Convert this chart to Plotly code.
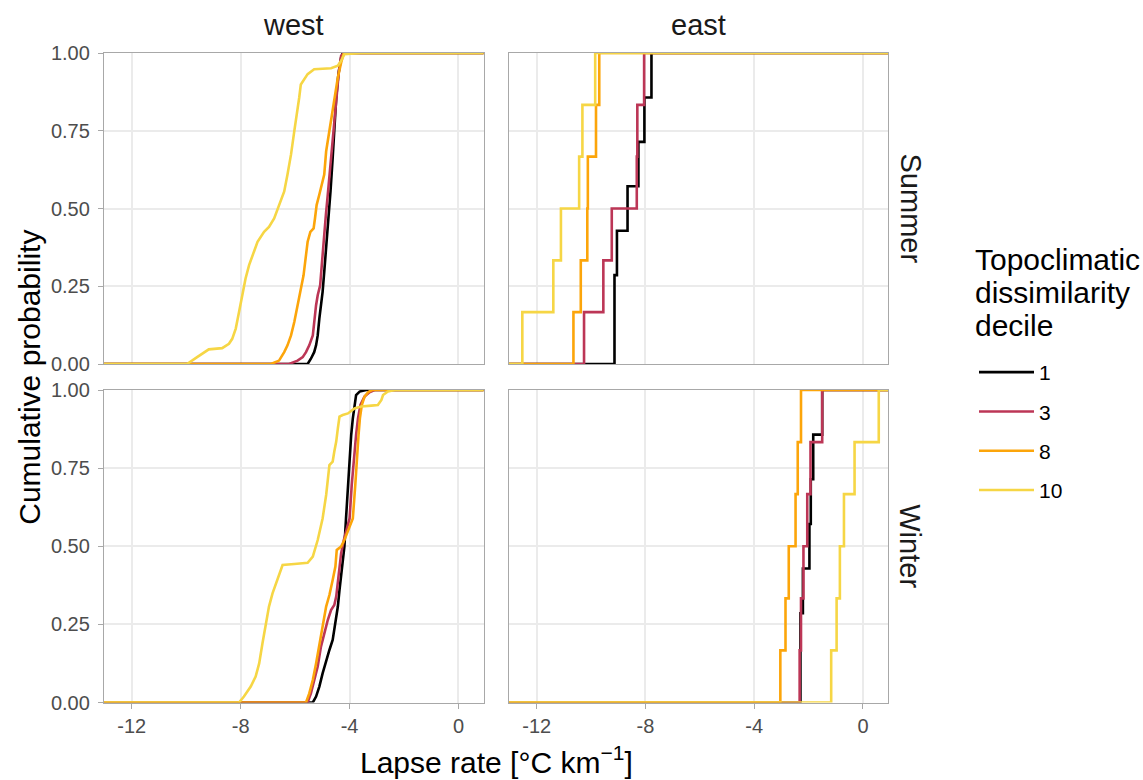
import plotly.graph_objects as go

# ---------------- data ----------------
deciles = ["1", "3", "8", "10"]
colors = ["#000000", "#BC3656", "#FCA50A", "#F6D645"]
x_tick_vals = [-12, -8, -4, 0]
x_tick_text = ["-12", "-8", "-4", "0"]
y_tick_vals = [0, 0.25, 0.5, 0.75, 1.0]
y_tick_text = ["0.00", "0.25", "0.50", "0.75", "1.00"]
regions = ["west", "east"]
seasons = ["Summer", "Winter"]
legend_title_lines = ["Topoclimatic", "dissimilarity", "decile"]

# West / Summer : cumulative curves (lapse rate, cumulative probability)
ws1_x = [-5.54, -5.42, -5.30, -5.23, -5.17, -5.11, -5.05, -4.99, -4.93, -4.86, -4.80, -4.74, -4.70, -4.62, -4.56, -4.49, -4.41, -4.31, -4.25]
ws1_p = [0.0, 0.017, 0.038, 0.060, 0.092, 0.146, 0.189, 0.232, 0.296, 0.372, 0.447, 0.511, 0.555, 0.663, 0.770, 0.856, 0.932, 0.985, 1.0]
ws3_x = [-6.22, -5.91, -5.72, -5.60, -5.48, -5.35, -5.30, -5.23, -5.17, -5.08, -5.02, -4.95, -4.87, -4.80, -4.68, -4.58, -4.49, -4.39, -4.31, -4.21]
ws3_p = [0.0, 0.011, 0.022, 0.038, 0.060, 0.092, 0.135, 0.189, 0.221, 0.253, 0.318, 0.404, 0.479, 0.545, 0.663, 0.781, 0.867, 0.943, 0.991, 1.0]
ws8_x = [-6.89, -6.59, -6.40, -6.28, -6.15, -6.03, -5.91, -5.79, -5.69, -5.60, -5.54, -5.44, -5.32, -5.27, -5.21, -5.11, -4.93, -4.86, -4.74, -4.62, -4.53, -4.43, -4.31, -4.21]
ws8_p = [0.0, 0.011, 0.038, 0.060, 0.092, 0.135, 0.189, 0.243, 0.285, 0.350, 0.393, 0.425, 0.436, 0.468, 0.511, 0.545, 0.609, 0.684, 0.749, 0.824, 0.878, 0.921, 0.969, 1.0]
ws10_x = [-9.97, -9.60, -9.35, -9.17, -8.68, -8.43, -8.31, -8.18, -8.06, -7.94, -7.82, -7.69, -7.57, -7.38, -7.14, -6.96, -6.77, -6.59,
          -6.40, -6.28, -6.15, -6.03, -5.93, -5.85, -5.79, -5.66, -5.54, -5.30, -4.68, -4.43, -4.31, -4.19, -3.60]
ws10_p = [0.0, 0.022, 0.038, 0.047, 0.051, 0.065, 0.081, 0.114, 0.167, 0.221, 0.275, 0.318, 0.350, 0.393, 0.425, 0.441, 0.468, 0.511,
          0.555, 0.609, 0.674, 0.749, 0.803, 0.856, 0.899, 0.915, 0.932, 0.948, 0.951, 0.959, 0.975, 0.996, 1.0]

# West / Winter
ww1_x = [-5.35, -5.23, -5.11, -4.99, -4.86, -4.74, -4.62, -4.56, -4.49, -4.43, -4.37, -4.31, -4.25, -4.19, -4.13, -4.06, -4.00, -3.94, -3.88, -3.82, -3.76, -3.63, -3.39]
ww1_p = [0.0, 0.019, 0.051, 0.093, 0.136, 0.168, 0.200, 0.232, 0.264, 0.307, 0.360, 0.413, 0.456, 0.499, 0.589, 0.696, 0.803, 0.856, 0.909, 0.952, 0.984, 0.995, 1.0]
ww3_x = [-5.54, -5.42, -5.30, -5.17, -5.05, -4.93, -4.80, -4.68, -4.56, -4.49, -4.43, -4.37, -4.31, -4.21, -4.00, -3.92, -3.82, -3.76, -3.69, -3.60, -3.45, -3.27, -3.08]
ww3_p = [0.0, 0.029, 0.072, 0.115, 0.179, 0.221, 0.264, 0.296, 0.312, 0.339, 0.381, 0.435, 0.477, 0.520, 0.589, 0.696, 0.803, 0.856, 0.909, 0.952, 0.979, 0.993, 1.0]
ww8_x = [-5.60, -5.48, -5.35, -5.23, -5.11, -4.99, -4.86, -4.74, -4.62, -4.52, -4.47, -4.31, -4.19, -3.88, -3.79, -3.72, -3.67, -3.62, -3.55, -3.45, -3.32, -3.18]
ww8_p = [0.0, 0.029, 0.072, 0.125, 0.179, 0.243, 0.307, 0.344, 0.392, 0.435, 0.488, 0.499, 0.520, 0.589, 0.696, 0.803, 0.856, 0.909, 0.952, 0.979, 0.993, 1.0]
ww10_x = [-8.06, -7.88, -7.63, -7.45, -7.32, -7.20, -7.08, -6.96, -6.83, -6.65, -6.46, -6.03, -5.54, -5.35, -5.17, -4.99, -4.86, -4.74,
          -4.62, -4.56, -4.49, -4.43, -4.37, -4.25, -4.06, -3.82, -3.57, -3.20, -2.96, -2.83, -2.77, -2.59, -2.34]
ww10_p = [0.0, 0.019, 0.051, 0.083, 0.125, 0.189, 0.253, 0.307, 0.349, 0.392, 0.440, 0.443, 0.447, 0.467, 0.520, 0.589, 0.664, 0.760,
          0.771, 0.803, 0.835, 0.877, 0.915, 0.920, 0.925, 0.941, 0.947, 0.950, 0.952, 0.968, 0.984, 0.995, 1.0]

# East : individual lapse-rate values (step ECDF)
es1 = [-9.14, -9.14, -9.05, -8.66, -8.26, -8.04, -7.78]
es3 = [-10.26, -9.55, -9.24, -8.32, -8.30, -8.05]
es8 = [-10.65, -10.38, -10.14, -10.12, -9.82, -9.70]
es10 = [-12.53, -11.39, -11.11, -10.44, -10.32, -9.85]
ew1 = [-2.30, -2.30, -2.21, -1.97, -1.92, -1.83, -1.50]
ew3 = [-2.33, -2.28, -2.19, -2.05, -1.93, -1.50]
ew8 = [-3.04, -2.85, -2.73, -2.48, -2.40, -2.28]
ew10 = [-1.17, -0.97, -0.85, -0.70, -0.31, 0.58]

X_RANGE = [-13.02, 0.92]
FAR = 50.0

# ---------------- figure ----------------
W, H = 1143, 780
FONT = "Liberation Sans, Arial, Helvetica, sans-serif"


def px_x(v):
    return v / W


def px_y(v):
    return 1 - v / H


col_dom = [[px_x(104), px_x(483.5)], [px_x(509), px_x(888)]]
row_dom = [[px_y(364), px_y(53)], [px_y(702.5), px_y(390)]]

panels = {
    ("west", "Summer"): ("x", "y"),
    ("east", "Summer"): ("x2", "y2"),
    ("west", "Winter"): ("x3", "y3"),
    ("east", "Winter"): ("x4", "y4"),
}

west_curves = {
    "Summer": [(ws1_x, ws1_p), (ws3_x, ws3_p), (ws8_x, ws8_p), (ws10_x, ws10_p)],
    "Winter": [(ww1_x, ww1_p), (ww3_x, ww3_p), (ww8_x, ww8_p), (ww10_x, ww10_p)],
}
east_values = {
    "Summer": [es1, es3, es8, es10],
    "Winter": [ew1, ew3, ew8, ew10],
}

fig = go.Figure()
for season in seasons:
    for region in regions:
        xa, ya = panels[(region, season)]
        for i, dec in enumerate(deciles):
            if region == "west":
                cx, cp = west_curves[season][i]
                xs = [-FAR] + list(cx) + [FAR]
                ys = [0.0] + list(cp) + [1.0]
                shape = "linear"
            else:
                vals = sorted(east_values[season][i])
                n = len(vals)
                xs = [-FAR] + vals + [FAR]
                ys = [0.0] + [(k + 1) / n for k in range(n)] + [1.0]
                shape = "hv"
            fig.add_trace(go.Scatter(
                x=xs, y=ys, mode="lines",
                line=dict(color=colors[i], width=2.6, shape=shape),
                name=dec, legendgroup=dec,
                showlegend=(region == "west" and season == "Summer"),
                xaxis=xa, yaxis=ya, hoverinfo="skip",
            ))

axis_common = dict(
    showgrid=True, gridcolor="#EBEBEB", gridwidth=2,
    zeroline=False, showline=True, linecolor="#A8A8A8", linewidth=1.3,
    mirror=True, ticklen=5, tickwidth=1.2, tickcolor="#A8A8A8",
    automargin=False,
    tickfont=dict(family=FONT, size=20, color="#4D4D4D"),
)

layout_axes = {}
for (region, season), (xa, ya) in panels.items():
    ci = 0 if region == "west" else 1
    ri = 0 if season == "Summer" else 1
    xkey = "xaxis" + xa[1:]
    ykey = "yaxis" + ya[1:]
    layout_axes[xkey] = dict(
        axis_common, domain=col_dom[ci], anchor=ya, range=X_RANGE,
        tickvals=x_tick_vals, ticktext=x_tick_text,
        showticklabels=(ri == 1), ticks=("outside" if ri == 1 else ""),
    )
    layout_axes[ykey] = dict(
        axis_common, domain=row_dom[ri], anchor=xa, range=[0, 1],
        tickvals=y_tick_vals, ticktext=y_tick_text,
        showticklabels=(ci == 0), ticks=("outside" if ci == 0 else ""),
        ticklabelstandoff=4,
    )

title_font = dict(family=FONT, size=30, color="#000000")
strip_font = dict(family=FONT, size=29, color="#1A1A1A")

annotations = []
for ci, region in enumerate(regions):
    annotations.append(dict(
        text=region, xref="paper", yref="paper",
        x=(col_dom[ci][0] + col_dom[ci][1]) / 2, y=px_y(25),
        showarrow=False, font=strip_font, xanchor="center", yanchor="middle",
    ))
for ri, season in enumerate(seasons):
    annotations.append(dict(
        text=season, xref="paper", yref="paper",
        x=px_x(910), y=(row_dom[ri][0] + row_dom[ri][1]) / 2,
        showarrow=False, font=strip_font, textangle=90,
        xanchor="center", yanchor="middle",
    ))
annotations.append(dict(
    text="Lapse rate [°C km<sup>−1</sup>]", xref="paper", yref="paper",
    x=(col_dom[0][0] + col_dom[1][1]) / 2, y=px_y(760),
    showarrow=False, font=title_font, xanchor="center", yanchor="middle",
))
annotations.append(dict(
    text="Cumulative probability", xref="paper", yref="paper",
    x=px_x(30), y=(row_dom[0][1] + row_dom[1][0]) / 2,
    showarrow=False, font=title_font, textangle=-90,
    xanchor="center", yanchor="middle",
))
# legend title (three lines with ggplot-like tight line spacing)
for k, line in enumerate(legend_title_lines):
    annotations.append(dict(
        text=line, xref="paper", yref="paper",
        x=px_x(973), y=px_y(260 + 32.5 * k),
        showarrow=False, font=title_font, xanchor="left", yanchor="middle",
    ))

fig.update_layout(
    width=W, height=H,
    margin=dict(l=0, r=0, t=0, b=0, autoexpand=False),
    paper_bgcolor="white", plot_bgcolor="white",
    font=dict(family=FONT),
    annotations=annotations,
    legend=dict(
        x=px_x(974), xanchor="left", y=px_y(352), yanchor="top",
        font=dict(family=FONT, size=21, color="#000000"),
        tracegroupgap=9, itemwidth=55, bgcolor="rgba(0,0,0,0)",
    ),
    **layout_axes,
)

fig.write_html(
    "out.html",
    config={"displayModeBar": False},
    post_script="document.body.style.margin='0px';document.body.style.overflow='hidden';",
)
